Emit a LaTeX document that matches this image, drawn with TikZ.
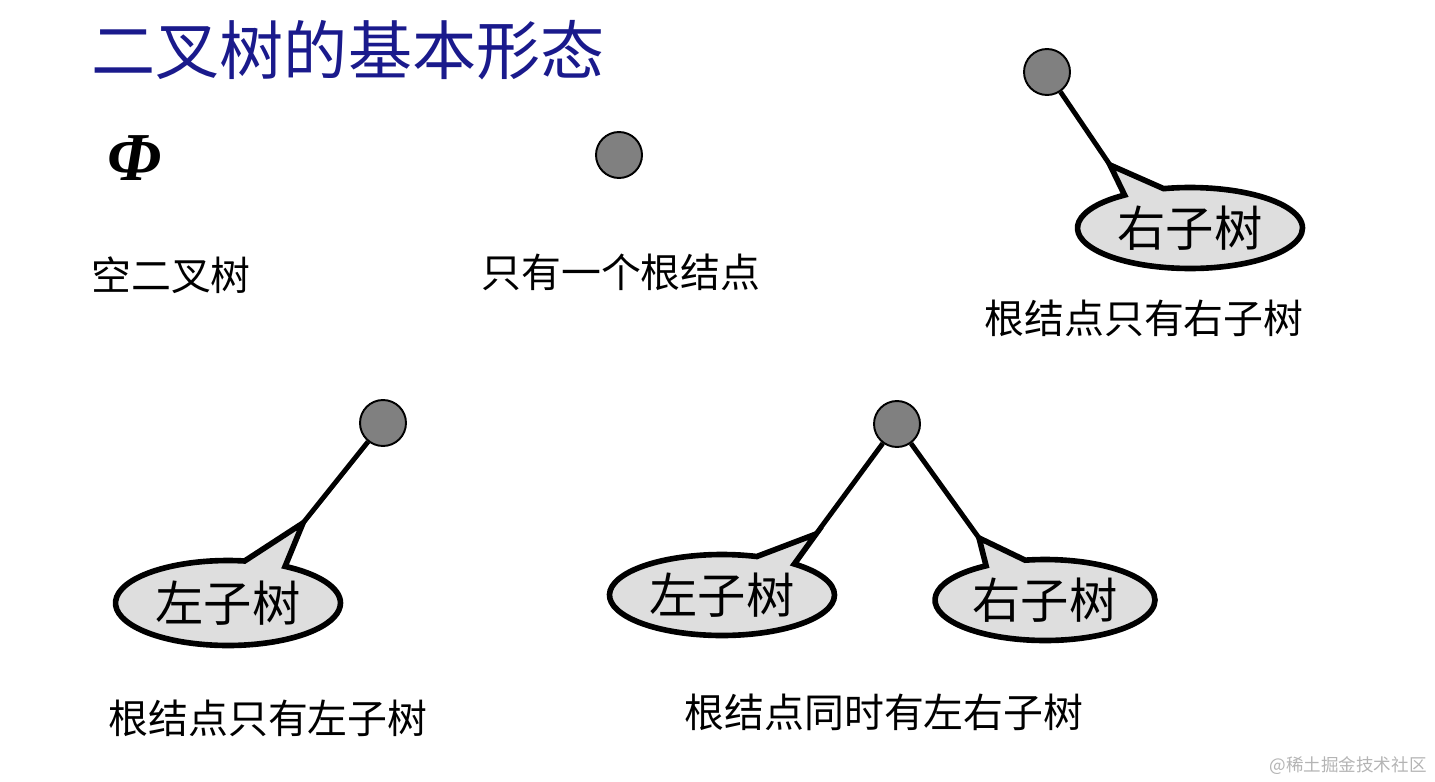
\documentclass[tikz,border=0pt]{standalone}
\usepackage{fontspec}
\setmainfont{Noto Sans CJK SC}
\newfontfamily\greekfont{Liberation Serif}
\usetikzlibrary{shapes.callouts,positioning}
\definecolor{titleblue}{HTML}{1A1A8C}
\definecolor{rootgray}{HTML}{808080}
\definecolor{bubblegray}{HTML}{DEDEDE}
\definecolor{markgray}{HTML}{B4B4B4}

\begin{document}
\begin{tikzpicture}[
		x=0.02cm, y=-0.02cm,
		every node/.style={align=center, inner sep=0pt},
		caption/.style={font=\fontsize{22.7}{26}\selectfont},
		root/.style={circle, draw=black, line width=1.1pt, fill=rootgray,
				minimum size=0.92cm},
		subtree/.style={ellipse callout, draw=black, line width=3.2pt,
				fill=bubblegray, minimum width=4.5cm, minimum height=1.62cm,
				callout pointer arc=22, font=\fontsize{27.5}{30}\selectfont},
		branch/.style={line width=2.8pt, black},
		]
		\useasboundingbox (0,0) rectangle (1435,781);

		\node[font=\fontsize{36.5}{40}\selectfont, text=titleblue] (title) at (348,50) {二叉树的基本形态};

		% empty tree
		\node[font=\greekfont\bfseries\itshape\fontsize{39}{40}\selectfont] (phi) at (135,158) {Φ};
		\node[caption] (capEmpty) at (171,275) {空二叉树};

		% root only
		\node[root] (rootS) at (619,155) {};
		\node[caption] (capRoot) at (621,272) {只有一个根结点};

		% right subtree only
		\node[root] (rootR) at (1047,72) {};
		\coordinate (tipR) at (1110,165);
		\node[subtree, callout absolute pointer={(tipR)}] (subR) at (1190,228) {右子树};
		\draw[branch] (rootR) -- (tipR);
		\node[caption] (capRight) at (1144,318) {根结点只有右子树};

		% left subtree only
		\node[root] (rootL) at (383,423) {};
		\coordinate (tipL) at (303,523);
		\node[subtree, callout absolute pointer={(tipL)}, minimum height=1.7cm] (subL) at (228,603) {左子树};
		\draw[branch] (rootL) -- (tipL);
		\node[caption] (capLeft) at (268,718) {根结点只有左子树};

		% both subtrees
		\node[root] (rootB) at (897,424) {};
		\coordinate (tipBL) at (816,534);
		\coordinate (tipBR) at (979,538);
		\node[subtree, callout absolute pointer={(tipBL)}] (subBL) at (722,595) {左子树};
		\node[subtree, callout absolute pointer={(tipBR)}, minimum width=4.4cm] (subBR) at (1045,600) {右子树};
		\draw[branch] (rootB) -- (tipBL);
		\draw[branch] (rootB) -- (tipBR);
		\node[caption] (capBoth) at (884,712) {根结点同时有左右子树};

		\node[font=\fontsize{10}{12}\selectfont, text=markgray] (mark) at (1348,766) {@稀土掘金技术社区};

	\end{tikzpicture}
\end{document}
